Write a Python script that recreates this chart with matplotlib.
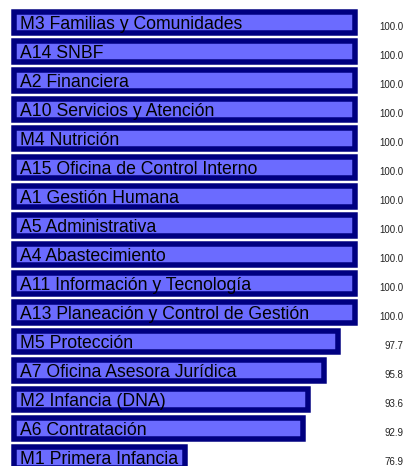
import matplotlib
matplotlib.use("Agg")
import matplotlib.pyplot as plt

plt.rcParams["font.family"] = ["Liberation Sans", "DejaVu Sans"]

areas = [
    "M3 Familias y Comunidades",
    "A14 SNBF",
    "A2 Financiera",
    "A10 Servicios y Atención",
    "M4 Nutrición",
    "A15 Oficina de Control Interno",
    "A1 Gestión Humana",
    "A5 Administrativa",
    "A4 Abastecimiento",
    "A11 Información y Tecnología",
    "A13 Planeación y Control de Gestión",
    "M5 Protección",
    "A7 Oficina Asesora Jurídica",
    "M2 Infancia (DNA)",
    "A6 Contratación",
    "M1 Primera Infancia",
]
scores = [100.0, 100.0, 100.0, 100.0, 100.0, 100.0, 100.0, 100.0, 100.0,
          100.0, 100.0, 97.7, 95.8, 93.6, 92.9, 76.9]

BASE = 53.73  # value at the left edge of the bars
XMIN, XMAX = 51.83, 106.78

fig = plt.figure(figsize=(4.05, 4.66), dpi=100)
ax = fig.add_axes([0, 0, 1, 1])

pos = list(range(len(areas)))
widths = [s - BASE for s in scores]
ax.barh(pos, widths, left=BASE, height=0.724, color="#6b6bff",
        edgecolor="#000080", linewidth=3.96)

yt = ax.get_yaxis_transform()
for i, (name, s) in enumerate(zip(areas, scores)):
    ax.text(0.049, i + 0.2, name, transform=yt, ha="left", va="baseline",
            fontsize=12.7, color="black")
    ax.text(0.997, i + 0.24, f"{s:.1f}", transform=yt, ha="right",
            va="baseline", fontsize=7, color="#222222")

ax.set_xlim(XMIN, XMAX)
ax.set_ylim(15.276, -0.793)
ax.axis("off")

fig.savefig("out.png", dpi=100)
